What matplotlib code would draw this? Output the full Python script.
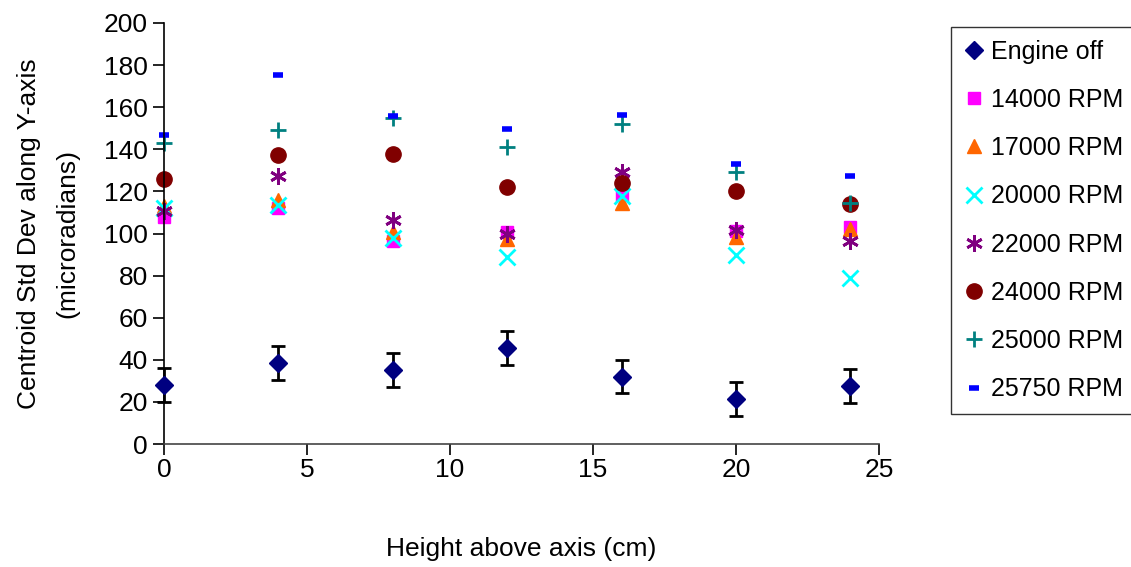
import matplotlib.pyplot as plt

plt.rcParams['font.family'] = ['Liberation Sans', 'DejaVu Sans']

heights = [0, 4, 8, 12, 16, 20, 24]

engine_off = [28, 38.5, 35, 45.5, 32, 21.5, 27.5]
engine_off_err = [8, 8, 8, 8, 8, 8, 8]
rpm_14000 = [108, 112, 96.5, 100.5, 118.5, 101, 103]
rpm_17000 = [113, 116, 100.5, 97.5, 114.5, 98.5, 102]
rpm_20000 = [112, 113.5, 98, 89, 118, 90, 79]
rpm_22000 = [110.5, 127.5, 106.5, 100, 129, 101.5, 96.5]
rpm_24000 = [126, 137.5, 138, 122, 124, 120, 114]
rpm_25000 = [143, 149, 155, 141, 152, 129, 114.5]
rpm_25750 = [147, 175.5, 156, 149.5, 156.5, 133, 127.5]

labels = ['Engine off', '14000 RPM', '17000 RPM', '20000 RPM',
          '22000 RPM', '24000 RPM', '25000 RPM', '25750 RPM']

fig = plt.figure(figsize=(11.31, 5.67), dpi=100)
ax = fig.add_axes([164 / 1131, 1 - 444 / 567, (879 - 164) / 1131, (444 - 23) / 567])

ax.errorbar(heights, engine_off, yerr=engine_off_err, fmt='none',
            ecolor='black', elinewidth=2, capsize=5, capthick=2, zorder=2, clip_on=False)
ax.plot(heights, engine_off, 'D', color='#000080', ms=9, label=labels[0], zorder=3, clip_on=False)
ax.plot(heights, rpm_14000, 's', color='#FF00FF', ms=9, label=labels[1], clip_on=False)
ax.plot(heights, rpm_17000, '^', color='#FF6600', ms=10, label=labels[2], clip_on=False)
ax.plot(heights, rpm_20000, 'x', color='#00FFFF', ms=11, mew=2, label=labels[3], clip_on=False)
ax.plot(heights, rpm_22000, marker=(6, 2, 0), ls='none', color='#800080', ms=12,
        mew=2, label=labels[4], clip_on=False)
ax.plot(heights, rpm_24000, 'o', color='#800000', ms=11, label=labels[5], clip_on=False)
ax.plot(heights, rpm_25000, '+', color='#008080', ms=12, mew=2, label=labels[6], clip_on=False)
ax.plot(heights, rpm_25750, '_', color='#0000FF', ms=7, mew=4, label=labels[7], clip_on=False)

ax.set_xlim(0, 25)
ax.set_ylim(0, 200)
ax.set_xticks([0, 5, 10, 15, 20, 25])
ax.set_yticks(range(0, 201, 20))
for s in ['top', 'right']:
    ax.spines[s].set_visible(False)
ax.spines['left'].set_linewidth(1.2)
ax.spines['bottom'].set_linewidth(1.2)
ax.spines['bottom'].set_color('#444444')
ax.tick_params(axis='both', direction='out', length=8, width=1.2, labelsize=19)
ax.tick_params(axis='x', pad=2)
ax.set_xlabel('Height above axis (cm)', fontsize=19, labelpad=40)
ax.set_ylabel('Centroid Std Dev along Y-axis\n(microradians)', fontsize=19,
              labelpad=18, linespacing=1.75)

handles, labs = ax.get_legend_handles_labels()
leg = fig.legend(handles, labs, loc='upper left', bbox_to_anchor=(951 / 1131, 1 - 27 / 567),
                 fontsize=18, frameon=True, fancybox=False, edgecolor='black',
                 handlelength=0.8, handletextpad=0.3, labelspacing=0.97,
                 borderpad=0.5, borderaxespad=0)
leg.get_frame().set_linewidth(1)

fig.savefig('out.png', dpi=100)
